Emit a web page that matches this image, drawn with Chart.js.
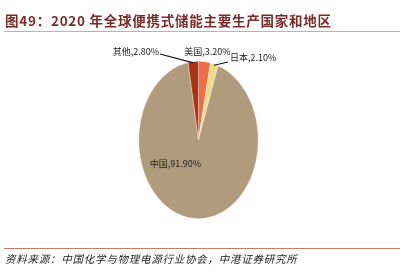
<!DOCTYPE html>
<html><head><meta charset="utf-8">
<script src="https://cdn.jsdelivr.net/npm/chart.js@4/dist/chart.umd.min.js"></script>
<style>
html,body{margin:0;padding:0;background:#fff;}
#wrap{position:relative;width:400px;height:280px;overflow:hidden;}
#c{position:absolute;left:0;top:0;}
#title{position:absolute;left:5px;top:10px;font:bold 13.5px "Noto Sans CJK SC","DejaVu Sans",sans-serif;color:#7a2b2b;white-space:nowrap;letter-spacing:0.75px;}
#tline{position:absolute;left:4px;top:31px;width:396px;height:1px;background:#d9a896;}
#bline{position:absolute;left:4px;top:248px;width:396px;height:1px;background:#c97a62;}
#src{position:absolute;left:5px;top:251px;font:italic 10.5px "Noto Sans CJK SC",serif;color:#222;white-space:nowrap;letter-spacing:0.75px;}
</style></head>
<body><div id="wrap">
<canvas id="c" width="400" height="280"></canvas>
<div id="title">图49：2020 年全球便携式储能主要生产国家和地区</div>
<div id="tline"></div>
<div id="bline"></div>
<div id="src">资料来源：中国化学与物理电源行业协会，中港证券研究所</div>
</div>
<script>
const categories = ['美国', '日本', '中国', '其他'];
const shares = [3.2, 2.1, 91.9, 2.8];
const sliceColors = ['#ee6f47', '#eedb8c', '#b09b7c', '#a83317'];

// pie geometry (ellipse) and label placement styles
const CX = 198.5, CY = 140, RX = 60, RY = 79;
const labelStyle = {
  '美国': {type: 'above', dx: 3, dy: -11},
  '日本': {type: 'leader', ex: 228, ey: 62, align: 'left', tx: 230, ty: 58},
  '中国': {type: 'inside', tx: 175.5, ty: 164},
  '其他': {type: 'leader', ex: 160, ey: 54, align: 'right', tx: 159, ty: 52}
};

const ellipsePlugin = {
  id: 'ellipse',
  beforeDatasetsDraw(chart) {
    const ctx = chart.ctx;
    ctx.save();
    ctx.translate(CX, CY);
    ctx.scale(1, RY / RX);
    ctx.translate(-CX, -CY);
  },
  afterDatasetsDraw(chart) {
    const ctx = chart.ctx;
    ctx.restore();
    const meta = chart.getDatasetMeta(0);
    ctx.save();
    ctx.font = '9px "Liberation Sans Narrow","Noto Sans CJK SC",sans-serif';
    ctx.fillStyle = '#222';
    ctx.strokeStyle = '#111';
    ctx.lineWidth = 1.1;
    ctx.textBaseline = 'middle';
    meta.data.forEach((arc, i) => {
      const name = categories[i];
      const st = labelStyle[name];
      const mid = (arc.startAngle + arc.endAngle) / 2;
      const ax = CX + RX * Math.cos(mid) * 0.98;
      const ay = CY + RY * Math.sin(mid) * 0.98;
      const text = name + ',' + shares[i].toFixed(2) + '%';
      if (st.type === 'leader') {
        ctx.beginPath();
        ctx.moveTo(ax, ay);
        ctx.lineTo(st.ex, st.ey);
        ctx.stroke();
        ctx.textAlign = st.align;
        ctx.fillText(text, st.tx, st.ty);
      } else if (st.type === 'above') {
        ctx.textAlign = 'center';
        ctx.fillText(text, ax + st.dx, ay + st.dy);
      } else {
        ctx.textAlign = 'center';
        ctx.fillText(text, st.tx, st.ty);
      }
    });
    ctx.restore();
  }
};

new Chart(document.getElementById('c'), {
  type: 'pie',
  data: {
    labels: categories,
    datasets: [{
      data: shares,
      backgroundColor: sliceColors,
      borderColor: 'rgba(255,255,255,0.6)',
      borderWidth: 0.5,
      hoverOffset: 0
    }]
  },
  options: {
    responsive: false,
    animation: false,
    events: [],
    layout: {padding: {left: CX - RX, right: 400 - CX - RX, top: CY - RX, bottom: 280 - CY - RX}},
    plugins: {legend: {display: false}, tooltip: {enabled: false}, title: {display: false}}
  },
  plugins: [ellipsePlugin]
});
</script>
</body></html>
